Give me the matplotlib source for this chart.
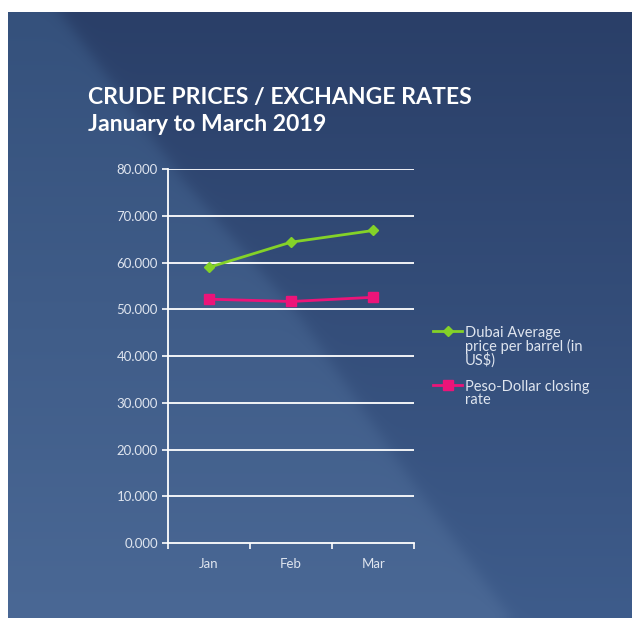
import numpy as np
import matplotlib
matplotlib.use("Agg")
import matplotlib.pyplot as plt
from matplotlib.colors import to_rgb

# data
months = ["Jan", "Feb", "Mar"]
dubai_price = [59.0, 64.4, 66.9]
peso_dollar = [52.2, 51.7, 52.6]
series_labels = ["Dubai Average\nprice per barrel (in\nUS$)", "Peso-Dollar closing\nrate"]
y_ticks = [0, 10, 20, 30, 40, 50, 60, 70, 80]

W, H = 632, 618
fig = plt.figure(figsize=(W / 100, H / 100), dpi=100)
fig.patch.set_facecolor("white")

# slide background: darker navy on the right, lighter strip on the left
sx0, sy0 = 8, 12
bw, bh = W - sx0, H - sy0
bg = fig.add_axes([sx0 / W, 0, bw / W, bh / H])
bg.set_axis_off()
yy, xx = np.mgrid[0:bh, 0:bw]
yy = yy + sy0
xx = xx + sx0
edge = np.interp(yy, [12, 180, 317, 483, 613], [60, 183, 300, 413, 507])
mix = 1 / (1 + np.exp(-(xx - edge) / 5.0))  # 0 left, 1 right
t = ((yy - sy0) / bh)[..., None]
lt, lb = np.array(to_rgb("#35517c")), np.array(to_rgb("#4a6895"))
rt, rb = np.array(to_rgb("#2a3f68")), np.array(to_rgb("#3e5c8b"))
left = lt * (1 - t) + lb * t
right = rt * (1 - t) + rb * t
img = left * (1 - mix[..., None]) + right * mix[..., None]
bg.imshow(img, aspect="auto", interpolation="bilinear")

# chart area
x0, x1, ytop, ybot = 167.7, 414.3, 169.3, 543
ax = fig.add_axes([x0 / W, (H - ybot) / H, (x1 - x0) / W, (ybot - ytop) / H])
ax.patch.set_alpha(0)
txt = "#dfe5ef"
x = np.arange(len(months))

for yv in y_ticks[1:]:
    ax.axhline(yv, color="white", lw=1.3, zorder=1)

ax.plot(x, dubai_price, color="#84d228", lw=2, marker="D", ms=5.5,
        label=series_labels[0], zorder=3)
ax.plot(x, peso_dollar, color="#ec1479", lw=2, marker="s", ms=7,
        label=series_labels[1], zorder=3)

ax.set_xlim(-0.5, 2.5)
ax.set_ylim(0, 80)
ax.set_yticks(y_ticks)
ax.set_yticklabels(["%.3f" % v for v in y_ticks])
ax.set_xticks([-0.5, 0.5, 1.5, 2.5])
ax.set_xticklabels([])
ax.set_xticks(x, minor=True)
ax.set_xticklabels(months, minor=True)
ax.tick_params(axis="x", which="major", direction="out", length=4, color="white", width=1.2)
ax.tick_params(axis="x", which="minor", length=0, pad=11, labelsize=9.5, labelcolor=txt)
ax.tick_params(axis="y", direction="out", length=4, color="white", width=1.2,
               labelsize=9.5, labelcolor=txt, pad=3)
for lab in ax.get_xticklabels(minor=True) + ax.get_yticklabels():
    lab.set_family("Lato")
for s in ["top", "right"]:
    ax.spines[s].set_visible(False)
for s in ["left", "bottom"]:
    ax.spines[s].set_color("white")
    ax.spines[s].set_linewidth(1.3)

leg = fig.legend(loc="upper left", bbox_to_anchor=(420 / W, 1 - 313 / H), frameon=False,
                 handlelength=2.0, handletextpad=0.2, labelspacing=0.8,
                 prop={"family": "Lato", "size": 10.5})
for t_ in leg.get_texts():
    t_.set_color(txt)
    t_.set_linespacing(0.9)
# keep each handle level with the first line of its label
for col in leg._legend_handle_box.get_children():
    for row in col.get_children():
        row.align = "top"

fig.text(88 / W, 1 - 104 / H, "CRUDE PRICES / EXCHANGE RATES", color="white",
         fontsize=16.6, fontweight="bold", family="Lato", va="baseline")
fig.text(88 / W, 1 - 131 / H, "January to March 2019", color="white",
         fontsize=16.6, fontweight="bold", family="Lato", va="baseline")

fig.savefig("out.png", dpi=100)
